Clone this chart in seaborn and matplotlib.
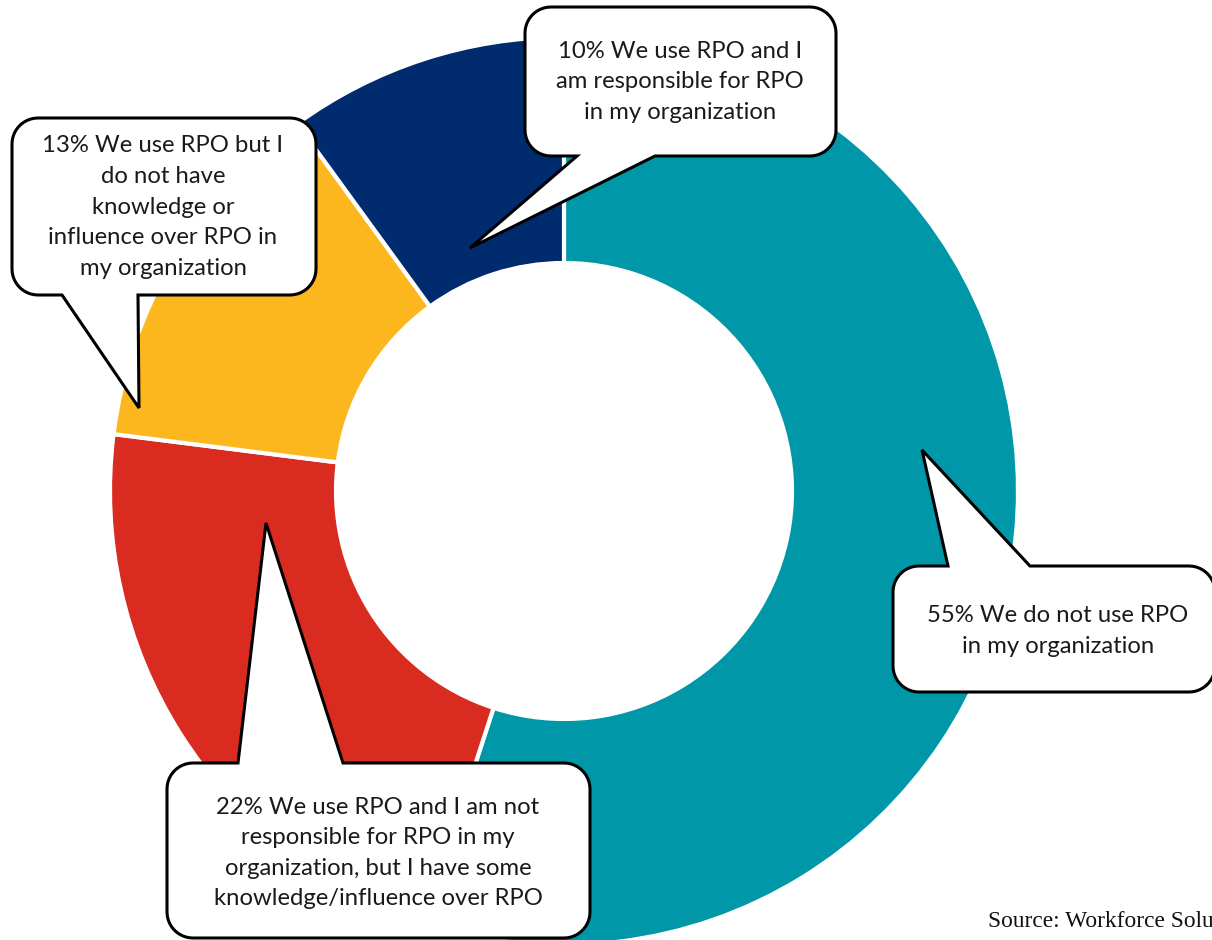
import numpy as np
import matplotlib
matplotlib.use("Agg")
import matplotlib.pyplot as plt
import seaborn as sns
from matplotlib.path import Path
from matplotlib.patches import PathPatch

# Survey answers, clockwise from 12 o'clock
labels = [
    "55% We do not use RPO\nin my organization",
    "22% We use RPO and I am not\nresponsible for RPO in my\norganization, but I have some\nknowledge/influence over RPO",
    "13% We use RPO but I\ndo not have\nknowledge or\ninfluence over RPO in\nmy organization",
    "10% We use RPO and I\nam responsible for RPO\nin my organization",
]
shares = [55, 22, 13, 10]
colors = ["#0098A8", "#D92B1F", "#FDB71E", "#002B6E"]
source_note = "Source: Workforce Solutions Group"

sns.set_theme(style="white")
plt.rcParams["font.family"] = ["Lato", "DejaVu Sans"]

W, H = 1212, 940
fig = plt.figure(figsize=(W / 100, H / 100), dpi=100)
ax = fig.add_axes([0, 0, 1, 1])

cx, cy, R, ring = 564, 491, 454, 226
ax.pie(shares, colors=colors, startangle=90, counterclock=False,
       center=(cx, H - cy), radius=R, frame=True,
       wedgeprops=dict(width=ring, edgecolor="white", linewidth=3))
ax.set_xlim(0, W)
ax.set_ylim(0, H)
ax.set_aspect("equal")
ax.axis("off")


def arc(xc, yc, r, a0, a1, n=12):
    t = np.radians(np.linspace(a0, a1, n))
    return [(xc + r * np.cos(t[i]), yc + r * np.sin(t[i])) for i in range(n)]


def callout(x0, y0, x1, y1, side, b0, b1, tip, r=26):
    """Rounded box (screen coords, y down) with a pointer on its top or bottom edge."""
    pts = [(x0 + r, y0)]
    if side == "top":
        pts += [(b0, y0), tip, (b1, y0)]
    pts += [(x1 - r, y0)]
    pts += arc(x1 - r, y0 + r, r, -90, 0)
    pts += [(x1, y1 - r)]
    pts += arc(x1 - r, y1 - r, r, 0, 90)
    if side == "bottom":
        pts += [(b1, y1), tip, (b0, y1)]
    pts += [(x0 + r, y1)]
    pts += arc(x0 + r, y1 - r, r, 90, 180)
    pts += [(x0, y0 + r)]
    pts += arc(x0 + r, y0 + r, r, 180, 270)
    verts = [(x, H - y) for x, y in pts] + [(x0 + r, H - y0)]
    codes = [Path.MOVETO] + [Path.LINETO] * (len(verts) - 2) + [Path.CLOSEPOLY]
    ax.add_patch(PathPatch(Path(verts, codes), facecolor="white",
                           edgecolor="black", linewidth=2.2, zorder=5))


boxes = [
    # (x0, y0, x1, y1, side, b0, b1, tip, text centre)
    (893, 566, 1215, 692, "top", 948, 1030, (922, 450), (1058, 631)),
    (167, 763, 590, 938, "top", 238, 343, (266, 523), (378, 853)),
    (12, 118, 316, 295, "bottom", 62, 138, (139, 408), (163, 207)),
    (525, 7, 836, 156, "bottom", 577, 655, (470, 248), (680, 82)),
]

for (x0, y0, x1, y1, side, b0, b1, tip, (tx, ty)), text in zip(boxes, labels):
    callout(x0, y0, x1, y1, side, b0, b1, tip)
    ax.text(tx, H - ty, text, ha="center", va="center", fontsize=17.2,
            color="#1a1a1a", linespacing=1.56, zorder=6)

ax.text(988, H - 921, source_note, ha="left", va="center", fontsize=16.8,
        family=["Liberation Serif", "DejaVu Serif"], color="#111111", zorder=6)

fig.savefig("out.png", dpi=100)
